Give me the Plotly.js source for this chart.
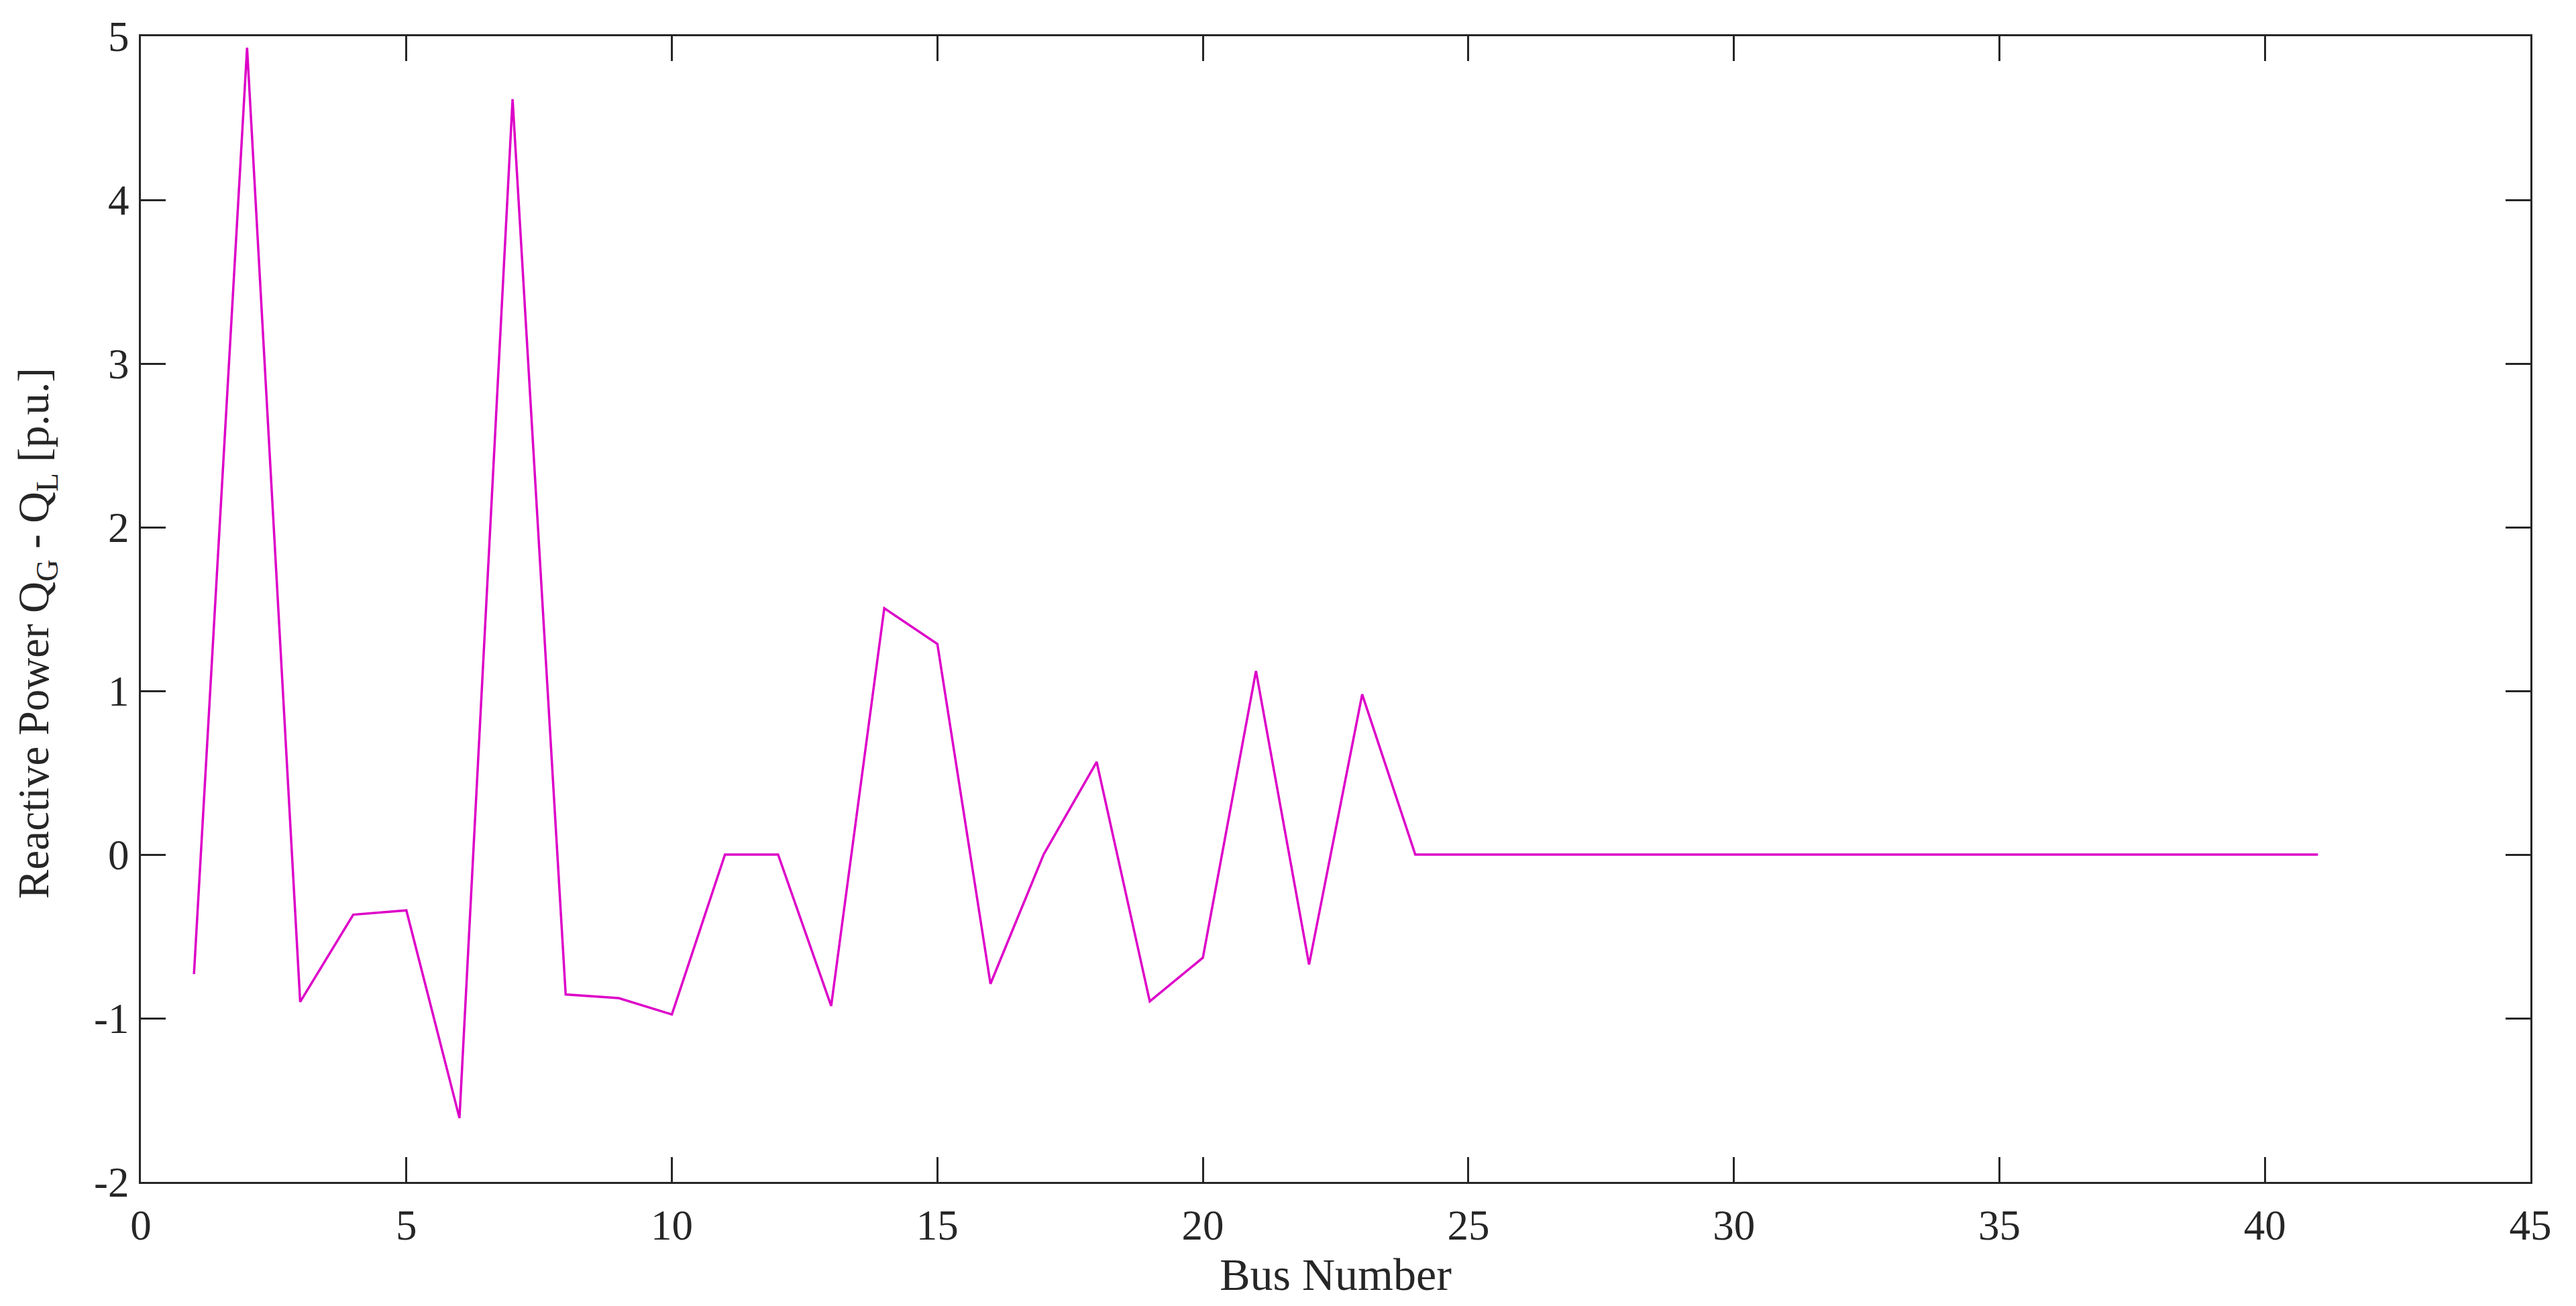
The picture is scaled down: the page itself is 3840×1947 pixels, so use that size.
<!DOCTYPE html>
<html>
<head>
<meta charset="utf-8">
<script src="https://cdn.plot.ly/plotly-3.0.1.min.js"></script>
<style>
  html, body { margin: 0; padding: 0; background: #ffffff; }
  #chart { width: 3840px; height: 1947px; }
</style>
</head>
<body>
<div id="chart"></div>
<script>
// Bus numbers
const busNumbers = [1,2,3,4,5,6,7,8,9,10,11,12,13,14,15,16,17,18,19,20,21,22,23,24,25,26,27,28,29,30,31,32,33,34,35,36,37,38,39,40,41];
// Reactive power QG - QL [p.u.]
const reactivePower = [
  -0.73, 4.93, -0.90, -0.367, -0.341, -1.61, 4.615, -0.855, -0.877, -0.977,
  0, 0, -0.925, 1.505, 1.287, -0.79, 0, 0.566, -0.897, -0.63,
  1.122, -0.672, 0.979, 0, 0, 0, 0, 0, 0, 0,
  0, 0, 0, 0, 0, 0, 0, 0, 0, 0, 0
];
const xTicks = [0,5,10,15,20,25,30,35,40,45];
const yTicks = [-2,-1,0,1,2,3,4,5];
const xTitle = 'Bus Number';
const yTitle = 'Reactive Power Q<sub>G</sub> - Q<sub>L</sub> [p.u.]';

const axisColor = '#262626';
const fontFamily = '"Liberation Serif", "Times New Roman", serif';

const trace = {
  x: busNumbers,
  y: reactivePower,
  type: 'scatter',
  mode: 'lines',
  line: { color: '#DD00C8', width: 3.5 },
  hoverinfo: 'x+y'
};

const layout = {
  width: 3840,
  height: 1947,
  paper_bgcolor: '#ffffff',
  plot_bgcolor: '#ffffff',
  showlegend: false,
  font: { family: fontFamily, color: axisColor, size: 62 },
  margin: { l: 210, r: 68, t: 54, b: 185, pad: 0 },
  xaxis: {
    range: [0, 45],
    tickvals: xTicks,
    ticktext: xTicks.map(String),
    ticks: 'inside',
    ticklen: 37,
    tickwidth: 3,
    tickcolor: axisColor,
    showline: true,
    linecolor: axisColor,
    linewidth: 3,
    mirror: 'ticks',
    showgrid: false,
    zeroline: false,
    ticklabelstandoff: 7,
    tickfont: { family: fontFamily, size: 63, color: axisColor },
    title: { text: xTitle, font: { family: fontFamily, size: 68, color: axisColor }, standoff: 14 },
    automargin: false
  },
  yaxis: {
    range: [-2, 5],
    tickvals: yTicks,
    ticktext: yTicks.map(String),
    ticks: 'inside',
    ticklen: 37,
    tickwidth: 3,
    tickcolor: axisColor,
    showline: true,
    linecolor: axisColor,
    linewidth: 3,
    mirror: 'ticks',
    showgrid: false,
    zeroline: false,
    ticklabelstandoff: 2,
    tickfont: { family: fontFamily, size: 63, color: axisColor },
    automargin: false
  },
  annotations: [{
    text: yTitle,
    xref: 'paper', yref: 'paper',
    x: -0.0435, y: 0.479,
    xanchor: 'center', yanchor: 'middle',
    textangle: -90,
    showarrow: false,
    font: { family: fontFamily, size: 65, color: axisColor }
  }]
};

Plotly.newPlot('chart', [trace], layout, { displayModeBar: false, staticPlot: true });
</script>
</body>
</html>
